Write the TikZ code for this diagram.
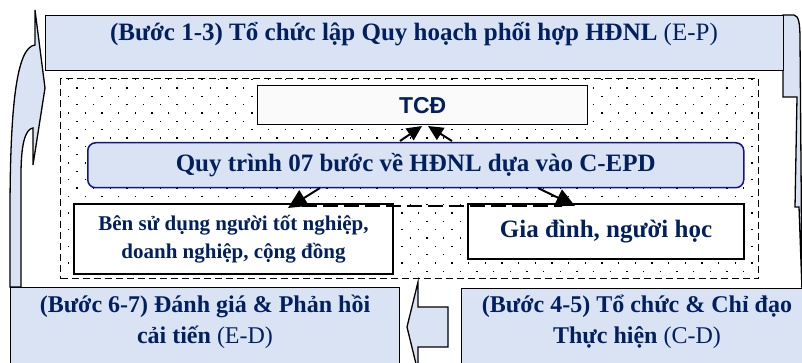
\documentclass[tikz,border=0pt]{standalone}
\usepackage{fontspec}
\setmainfont{Liberation Serif}
\newfontfamily\sansfam{Liberation Sans}
\usetikzlibrary{arrows.meta}
\definecolor{navy}{RGB}{0,32,96}
\definecolor{lblue}{RGB}{218,227,243}
\definecolor{qborder}{RGB}{20,20,140}
\begin{document}
\begin{tikzpicture}[x=1pt,y=-1pt,
  shapeline/.style={draw=black,line width=1.3pt,fill=lblue},
  bluebox/.style={draw=black,line width=1.3pt,fill=lblue,anchor=north west,inner sep=0pt},
  whitebox/.style={draw=black,line width=2pt,fill=white,anchor=north west,inner sep=0pt,text=navy,align=center},
  lbl/.style={text=navy,font=\bfseries\fontsize{25}{31}\selectfont,align=center,inner sep=0pt},
  lblb/.style={text=navy,font=\bfseries\fontsize{24}{31}\selectfont,align=center,inner sep=0pt},
  arr/.style={line width=2pt,-{Triangle[length=15pt,width=14pt]}},
  bigarr/.style={line width=2pt,-{Triangle[length=19pt,width=18pt]}},
  dline/.style={line width=2.5pt,dash pattern=on 15pt off 6pt},
]
\useasboundingbox (0,0) rectangle (802,363);
% curved arrows
\draw[shapeline] (10,287) -- (10,215) .. controls (10,110) and (16,47) .. (35,45) -- (35,10) -- (45,88) -- (33,165) -- (33,128) .. controls (25,129) and (21,145) .. (21,175) -- (21,287) -- cycle;
\draw[shapeline] (783,15) -- (794,15) .. controls (799,16) and (800,24) .. (800,40) -- (802,290) -- (799,207) -- (795,207) -- (797,97) -- (783,97) -- cycle;
% top box
\node[bluebox,minimum width=738pt,minimum height=55pt] (top) at (45,15) {};
\node[lbl] (toptxt) at (414,34) {(Bước 1-3) Tổ chức lập Quy hoạch phối hợp HĐNL {\mdseries(E-P)}};
% dotted region
\node[draw=black,line width=1.1pt,dash pattern=on 7pt off 4pt,fill=white,anchor=north west,inner sep=0pt,minimum width=698pt,minimum height=200pt] (region) at (60,78) {};
\begin{scope}
\clip (62,80) rectangle (756,276);
\foreach \k in {0,...,24}{
  \pgfmathsetmacro\yy{79.67+\k*8.333}
  \pgfmathsetmacro\xo{mod(\k+1,2)*8.333}
  \foreach \i in {0,...,42}{
    \fill[black] (60.33+\xo+\i*16.667-0.75,\yy-0.75) rectangle ++(1.5,1.5);
  }
}
\end{scope}
% inner boxes
\node[draw=black,line width=1.3pt,fill=gray!4,anchor=north west,inner sep=0pt,minimum width=330pt,minimum height=39pt,font=\sansfam\bfseries\fontsize{23}{26}\selectfont,text=navy] (tcd) at (257,85) {TCĐ};
\node[draw=qborder,line width=1.5pt,fill=lblue,rounded corners=8pt,anchor=north west,inner sep=0pt,minimum width=656pt,minimum height=45pt,lbl] (q) at (87,142) {Quy trình 07 bước về HĐNL dựa vào C-EPD};
\node[whitebox,minimum width=319pt,minimum height=70pt,font=\bfseries\fontsize{21}{28}\selectfont] (ben) at (73,203) {Bên sử dụng người tốt nghiệp,\\doanh nghiệp, cộng đồng};
\node[whitebox,minimum width=276pt,minimum height=55pt,font=\bfseries\fontsize{25}{28}\selectfont] (gia) at (467,203) {Gia đình, người học};
% arrows
\coordinate (qa1) at (400,141); \coordinate (ta1) at (422,126);
\coordinate (qa2) at (452,141); \coordinate (ta2) at (428,126);
\draw[arr] (qa1) -- (ta1);
\draw[arr] (qa2) -- (ta2);
\coordinate (d0) at (302,206); \coordinate (d1) at (562,206);
\draw[dline] (d0) -- (d1);
\coordinate (la0) at (320,188); \coordinate (la1) at (288,208);
\coordinate (ra0) at (538,188); \coordinate (ra1) at (575,206);
\draw[bigarr] (la0) -- (la1);
\draw[bigarr] (ra0) -- (ra1);
% bottom boxes
\node[bluebox,minimum width=389pt,minimum height=90pt] (bl) at (10,287) {};
\node[lblb] (bltxt) at (205,322) {(Bước 6-7) Đánh giá \& Phản hồi\\cải tiến {\mdseries(E-D)}};
\node[bluebox,minimum width=350pt,minimum height=90pt] (br) at (461,288) {};
\node[lblb] (brtxt) at (637,322) {(Bước 4-5) Tổ chức \& Chỉ đạo\\Thực hiện {\mdseries(C-D)}};
\draw[shapeline] (448,307) -- (418,307) -- (418,282) -- (407,327) -- (418,372) -- (418,347) -- (448,347) -- cycle;
\end{tikzpicture}
\end{document}
